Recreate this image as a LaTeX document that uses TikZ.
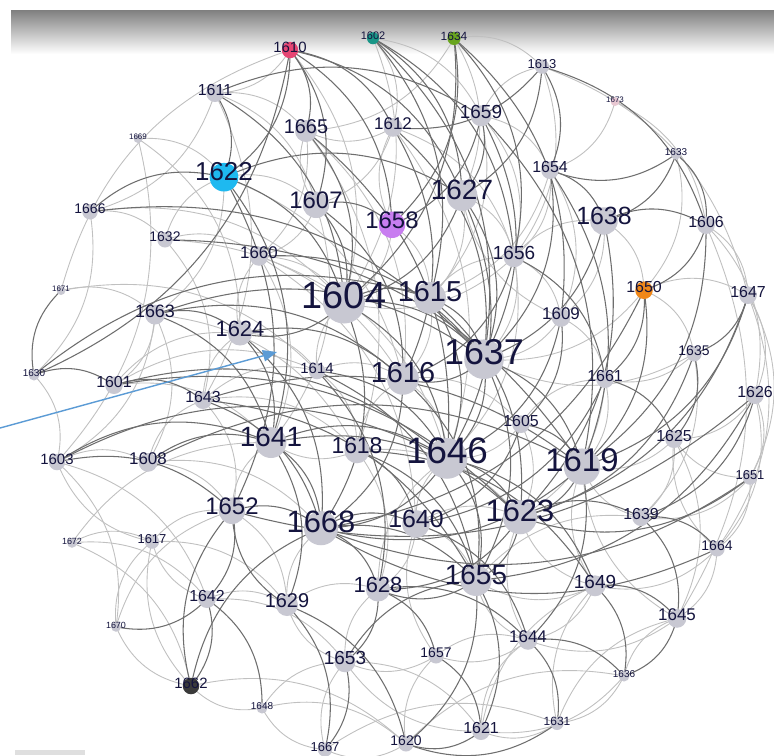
\documentclass[tikz,border=0pt]{standalone}
\usepackage{fontspec}
\setmainfont{Liberation Sans}
\usepackage{tikz}
\usetikzlibrary{arrows.meta, positioning, calc}
\usepackage{xcolor}
\definecolor{nodegray}{RGB}{200,200,210}
\definecolor{labelnavy}{RGB}{20,20,62}
\definecolor{edgedark}{RGB}{110,110,110}
\definecolor{edgelight}{RGB}{192,192,192}
\definecolor{cyanc}{RGB}{30,185,240}
\definecolor{violetc}{RGB}{200,125,240}
\definecolor{pinkc}{RGB}{230,70,115}
\definecolor{tealc}{RGB}{25,150,135}
\definecolor{greenc}{RGB}{105,165,30}
\definecolor{orangec}{RGB}{240,135,25}
\definecolor{darkc}{RGB}{58,58,58}
\definecolor{palepink}{RGB}{232,200,210}
\definecolor{pointerblue}{RGB}{91,155,213}

% name/x/y/label size/fill
\def\netnodes{1610/290/47/15/pinkc, 1602/373/36/11/tealc, 1634/454/36/12/greenc,
  1613/542/64/13/nodegray, 1673/615/100/8/palepink, 1633/676/152/10/nodegray,
  1611/215/90/16/nodegray, 1669/138/137/8/nodegray, 1665/306/127/20/nodegray,
  1612/393/124/17/nodegray, 1659/481/112/19/nodegray, 1654/550/167/16/nodegray,
  1622/224/172/26/cyanc, 1607/316/200/24/nodegray, 1627/462/190/28/nodegray,
  1658/392/220/24/violetc, 1638/604/216/25/nodegray, 1606/706/222/16/nodegray,
  1666/90/209/14/nodegray, 1632/165/237/14/nodegray, 1660/259/253/17/nodegray,
  1656/514/253/19/nodegray, 1671/61/289/8/nodegray, 1604/344/295/38/nodegray,
  1615/430/292/29/nodegray, 1650/644/287/16/orangec, 1647/748/292/16/nodegray,
  1609/561/314/17/nodegray, 1663/155/311/18/nodegray, 1624/240/329/22/nodegray,
  1637/484/352/36/nodegray, 1635/694/351/14/nodegray, 1630/34/373/10/nodegray,
  1601/114/382/16/nodegray, 1614/317/368/15/nodegray, 1616/403/373/29/nodegray,
  1661/605/376/16/nodegray, 1643/203/397/16/nodegray, 1626/755/392/16/nodegray,
  1605/521/421/16/nodegray, 1625/674/436/16/nodegray, 1641/271/437/28/nodegray,
  1618/357/446/23/nodegray, 1646/447/451/37/nodegray, 1619/582/460/33/nodegray,
  1603/57/459/15/nodegray, 1608/148/459/17/nodegray, 1651/750/475/13/nodegray,
  1652/232/506/24/nodegray, 1668/321/522/31/nodegray, 1640/416/519/25/nodegray,
  1623/520/511/31/nodegray, 1639/641/514/16/nodegray, 1672/72/541/9/nodegray,
  1617/152/539/13/nodegray, 1664/717/546/14/nodegray, 1655/476/575/28/nodegray,
  1628/378/585/22/nodegray, 1629/287/601/20/nodegray, 1642/207/596/16/nodegray,
  1649/595/582/19/nodegray, 1645/677/615/17/nodegray, 1670/116/625/9/nodegray,
  1653/345/658/19/nodegray, 1657/436/653/14/nodegray, 1644/528/637/17/nodegray,
  1636/624/674/10/nodegray, 1662/191/683/15/darkc, 1648/262/706/10/nodegray,
  1621/481/728/16/nodegray, 1631/557/721/12/nodegray, 1667/325/747/13/nodegray,
  1620/406/741/14/nodegray}

\def\darklinks{1610/1665, 1610/1612, 1610/1607, 1610/1627, 1610/1658, 1610/1630, 1610/1622,
  1602/1627, 1602/1656, 1602/1615, 1602/1637, 1634/1658, 1634/1656, 1634/1609, 1634/1604,
  1613/1654, 1613/1606, 1613/1612, 1613/1627, 1633/1654, 1633/1638, 1633/1606,
  1611/1622, 1611/1604, 1611/1659, 1666/1622, 1666/1637, 1630/1671, 1630/1601, 1630/1615,
  1601/1643, 1601/1646, 1663/1624, 1663/1637, 1663/1641, 1622/1604, 1622/1641, 1622/1652,
  1622/1627, 1607/1604, 1607/1616, 1607/1658, 1665/1604, 1665/1646, 1612/1616, 1612/1637,
  1659/1627, 1659/1637, 1659/1658, 1659/1619, 1654/1637, 1654/1638, 1654/1619,
  1627/1604, 1627/1637, 1627/1646, 1638/1606, 1638/1637, 1638/1623, 1606/1650, 1606/1619,
  1656/1616, 1656/1661, 1604/1615, 1604/1637, 1604/1646, 1604/1668, 1604/1624,
  1615/1646, 1615/1637, 1615/1623, 1650/1661, 1650/1668, 1650/1619,
  1647/1635, 1647/1619, 1647/1623, 1609/1605, 1609/1646, 1624/1641, 1624/1616, 1624/1668,
  1637/1646, 1637/1619, 1637/1655, 1637/1616, 1635/1625, 1635/1623, 1614/1646, 1614/1628,
  1616/1668, 1616/1655, 1661/1625, 1661/1640, 1643/1655, 1643/1668,
  1626/1639, 1626/1652, 1626/1655, 1605/1619, 1605/1640,
  1641/1646, 1641/1623, 1641/1668, 1641/1629, 1618/1655, 1618/1640,
  1646/1623, 1646/1668, 1646/1655, 1646/1649, 1619/1623, 1619/1668, 1619/1644,
  1603/1641, 1603/1646, 1603/1652, 1608/1619, 1608/1641, 1651/1623, 1651/1668,
  1652/1668, 1652/1642, 1668/1640, 1668/1655, 1668/1628, 1623/1655, 1623/1639, 1623/1628,
  1639/1664, 1639/1645, 1664/1668, 1655/1628, 1655/1621, 1655/1620, 1628/1657, 1628/1653,
  1629/1620, 1629/1667, 1629/1652, 1642/1662, 1642/1670, 1642/1648,
  1649/1645, 1649/1636, 1645/1636, 1653/1667, 1657/1621, 1644/1636, 1644/1631,
  1662/1668, 1662/1652, 1621/1620, 1631/1620, 1663/1616, 1660/1637, 1632/1619,
  1643/1619, 1601/1623, 1618/1649, 1614/1655, 1640/1644, 1628/1644, 1653/1655}

\def\lightlinks{1669/1603, 1669/1622, 1669/1624, 1671/1663, 1671/1614, 1673/1654,
  1672/1642, 1672/1617, 1672/1641, 1670/1617, 1670/1652, 1611/1665, 1611/1607, 1611/1643,
  1666/1632, 1666/1604, 1632/1622, 1632/1660, 1632/1616, 1660/1604, 1660/1641, 1660/1646,
  1663/1608, 1663/1601, 1663/1603, 1610/1611, 1602/1612, 1602/1659, 1634/1665, 1634/1613,
  1612/1665, 1612/1656, 1612/1607, 1665/1660, 1665/1616, 1659/1654, 1659/1613,
  1656/1609, 1656/1638, 1656/1637, 1656/1604, 1654/1656, 1654/1609, 1606/1647, 1606/1626,
  1638/1650, 1638/1609, 1650/1647, 1650/1635, 1647/1626, 1647/1651, 1635/1661, 1635/1639,
  1626/1625, 1626/1651, 1626/1664, 1625/1619, 1625/1639, 1625/1645, 1651/1639, 1651/1664,
  1664/1645, 1664/1649, 1645/1644, 1636/1631, 1636/1621, 1631/1621, 1631/1649,
  1621/1644, 1621/1653, 1620/1667, 1620/1657, 1667/1648, 1667/1653, 1648/1662, 1648/1653,
  1662/1670, 1662/1617, 1642/1617, 1642/1629, 1617/1652, 1617/1603, 1603/1608, 1608/1652,
  1608/1643, 1601/1614, 1601/1624, 1643/1624, 1643/1614, 1643/1618, 1614/1604, 1614/1616,
  1614/1618, 1618/1616, 1618/1641, 1618/1628, 1616/1646, 1616/1605, 1605/1646, 1605/1661,
  1609/1661, 1609/1637, 1661/1619, 1640/1646, 1640/1628, 1640/1655,
  1649/1623, 1649/1655, 1649/1644, 1644/1655, 1644/1657, 1657/1653, 1657/1640,
  1653/1629, 1653/1628, 1629/1628, 1629/1668, 1652/1641, 1652/1629, 1622/1607, 1622/1663,
  1607/1665, 1607/1660, 1658/1604, 1658/1615, 1658/1612, 1627/1615, 1627/1656,
  1615/1616, 1615/1656, 1624/1614, 1624/1660,
  1671/1610, 1630/1603, 1603/1670, 1672/1662, 1667/1631, 1620/1636, 1636/1645,
  1613/1647, 1606/1645, 1647/1664, 1611/1666, 1666/1630, 1673/1606, 1633/1650,
  1612/1646, 1665/1618, 1607/1641, 1622/1616, 1660/1640, 1632/1643, 1663/1618,
  1601/1641, 1643/1652, 1608/1668, 1603/1642, 1617/1629, 1642/1653, 1662/1620,
  1648/1620, 1653/1621, 1657/1644, 1621/1649, 1631/1645, 1644/1623, 1655/1639,
  1649/1619, 1645/1619, 1664/1625, 1651/1625, 1639/1619, 1661/1623, 1635/1637,
  1650/1637, 1609/1627, 1654/1615, 1659/1656, 1613/1656, 1602/1604, 1634/1627,
  1610/1604, 1659/1615, 1656/1646, 1605/1623, 1618/1623, 1640/1623, 1628/1646}

\tikzset{
  vtx/.style={circle, draw=none, inner sep=0pt},
  lbl/.style={text=labelnavy, inner sep=0pt},
  darkedge/.style={draw=edgedark, line width=0.6pt},
  lightedge/.style={draw=edgelight, line width=0.5pt},
  pointer/.style={draw=pointerblue, line width=0.8pt, -{Triangle[length=8pt, width=6.5pt]}}
}

\begin{document}
\begin{tikzpicture}[x=0.02cm, y=-0.02cm]
  \useasboundingbox (0,0) rectangle (774,755);
  \fill[white] (0,0) rectangle (774,755);
  % header band
  \shade[top color=black!50, bottom color=white] (11,10) rectangle (774,54);
  \fill[gray!25] (15,750) rectangle (85,755);
  % node centres
  \foreach \n/\x/\y/\f/\c in \netnodes {
    \pgfmathsetmacro\cy{\y+0.2*\f}
    \coordinate (c\n) at (\x,\cy);
  }
  % links
  \foreach \a/\b in \lightlinks {
    \draw[lightedge] (c\a) to[bend left=28] (c\b);
  }
  \foreach \a/\b in \darklinks {
    \draw[darkedge] (c\a) to[bend left=28] (c\b);
  }
  % nodes and labels
  \foreach \n/\x/\y/\f/\c in \netnodes {
    \pgfmathsetmacro\dd{0.022*\f}
    \pgfmathsetmacro\fs{0.567*\f}
    \node[vtx, fill=\c, minimum size=\dd cm] (v\n) at (c\n) {};
    \node[lbl, font=\fontsize{\fs pt}{\fs pt}\selectfont] (t\n) at (\x,\y) {\n};
  }
  % pointer
  \coordinate (ptrS) at (0,428);
  \coordinate (ptrE) at (277,352);
  \draw[pointer] (ptrS) -- (ptrE);
\end{tikzpicture}
\end{document}
